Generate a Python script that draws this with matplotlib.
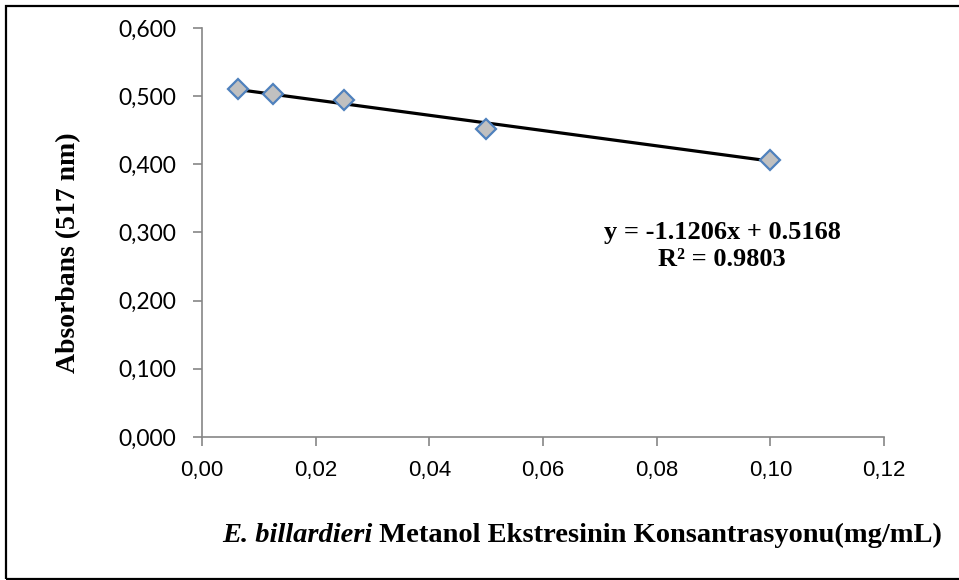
import numpy as np
from matplotlib import pyplot as plt
from matplotlib.patches import Rectangle

# concentration (mg/mL) and absorbance at 517 nm
conc = [0.00625, 0.0125, 0.025, 0.05, 0.1]
absorb = [0.510, 0.503, 0.494, 0.452, 0.407]

slope, intercept = -1.1206, 0.5168
x_ticks = [0.00, 0.02, 0.04, 0.06, 0.08, 0.10, 0.12]
y_ticks = [0.0, 0.1, 0.2, 0.3, 0.4, 0.5, 0.6]

W, H = 959, 580
fig = plt.figure(figsize=(W / 100, H / 100), dpi=100)
ax = fig.add_axes([202 / W, 1 - 437 / H, (884 - 202) / W, (437 - 28) / H])

# outer chart frame (right edge cropped in the original)
fig.patches.append(Rectangle((6 / W, 1 / H), 1.2, 1 - 7 / H, transform=fig.transFigure,
                             fill=False, edgecolor='black', linewidth=1.6))

fit_x = np.array([conc[0], conc[-1]])
ax.plot(fit_x, slope * fit_x + intercept, color='black', linewidth=2.3, zorder=2)
ax.plot(conc, absorb, linestyle='none', marker='D', markersize=10,
        markerfacecolor='#c0c0c0', markeredgecolor='#4f81bd', markeredgewidth=1.6, zorder=3)

ax.set_xlim(0, 0.12)
ax.set_ylim(0, 0.6)
ax.set_xticks(x_ticks)
ax.set_yticks(y_ticks)
ax.set_xticklabels([f"{v:.2f}".replace('.', ',') for v in x_ticks],
                   family='Liberation Sans', fontsize=16)
ax.set_yticklabels([f"{v:.3f}".replace('.', ',') for v in y_ticks],
                   family='Lato', fontsize=16.5)

for side in ('top', 'right'):
    ax.spines[side].set_visible(False)
for side in ('left', 'bottom'):
    ax.spines[side].set_color('#868686')
    ax.spines[side].set_linewidth(1.2)
ax.tick_params(direction='out', length=6.5, width=1.2, color='#868686')
ax.tick_params(axis='y', pad=12)
ax.tick_params(axis='x', pad=10)

ax.set_ylabel('Absorbans (517 nm)', family='Liberation Serif', fontweight='bold',
              fontsize=20)
ax.yaxis.set_label_coords((81 - 202) / (884 - 202), 0.45)

# x label: italic species name followed by bold text
t1 = fig.text(222 / W, 1 - 535 / H, 'E. billardieri', family='Liberation Serif',
              fontweight='bold', fontstyle='italic', fontsize=20.5, va='center')
fig.canvas.draw()
ax.annotate(' Metanol Ekstresinin Konsantrasyonu(mg/mL)', xy=(1, 0.5), xycoords=t1,
            va='center', ha='left', family='Liberation Serif', fontweight='bold',
            fontsize=20.5, annotation_clip=False)

ax.text(0.0915, 0.280, f"y = {slope}x + {intercept}\nR² = 0.9803", ha='center',
        va='center', family='Liberation Serif', fontweight='bold', fontsize=19,
        linespacing=1.2)

fig.savefig('out.png', dpi=100)
